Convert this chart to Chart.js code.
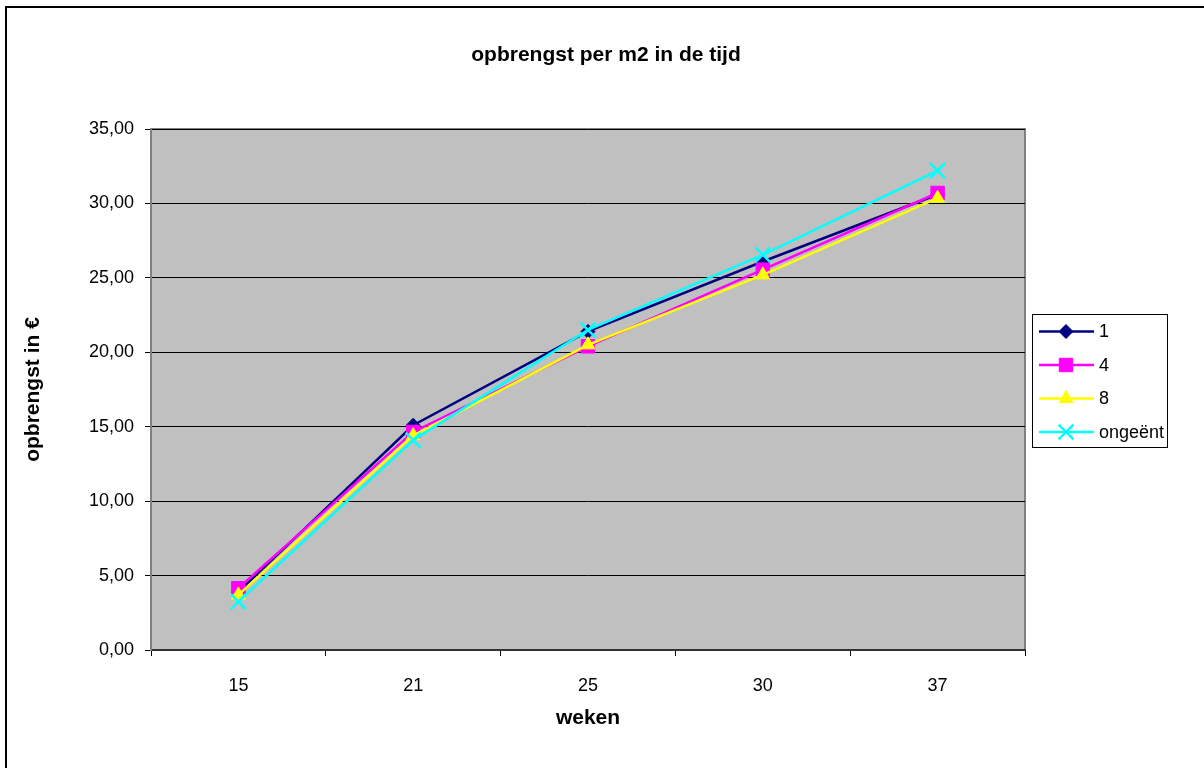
<!DOCTYPE html>
<html>
<head>
<meta charset="utf-8">
<script src="https://cdn.jsdelivr.net/npm/chart.js@4.4.0/dist/chart.umd.min.js"></script>
<style>
html,body{margin:0;padding:0;background:#fff;}
canvas{display:block;}
</style>
</head>
<body>
<canvas id="c" width="1204" height="768"></canvas>
<script>
const categories = ['15', '21', '25', '30', '37'];
const seriesNames = ['1', '4', '8', 'ongeënt'];
const values1 = [3.9, 15.1, 21.4, 26.1, 30.6];
const values4 = [4.15, 14.65, 20.4, 25.55, 30.7];
const values8 = [3.7, 14.4, 20.5, 25.2, 30.35];
const valuesOngeent = [3.25, 14.1, 21.5, 26.55, 32.2];
const yTicks = [0, 5, 10, 15, 20, 25, 30, 35];
const chartTitle = 'opbrengst per m2 in de tijd';
const xTitle = 'weken';
const yTitle = 'opbrengst in €';

const FONT = "'Liberation Sans', Arial, sans-serif";

function drawMarker(ctx, ds, x, y) {
  ctx.save();
  ctx.fillStyle = ds.pointBackgroundColor;
  ctx.strokeStyle = ds.pointBorderColor;
  ctx.lineWidth = ds.pointBorderWidth;
  Chart.helpers.drawPoint(ctx, {pointStyle: ds.pointStyle, radius: ds.pointRadius, rotation: 0, borderWidth: ds.pointBorderWidth}, x, y);
  ctx.restore();
}

const frame = {
  id: 'frame',
  beforeDraw(chart) {
    const {ctx, chartArea: a} = chart;
    ctx.save();
    ctx.fillStyle = '#fff';
    ctx.fillRect(0, 0, chart.width, chart.height);
    ctx.strokeStyle = '#000';
    ctx.lineWidth = 2;
    ctx.strokeRect(6, 7, 1400, 1000);
    ctx.fillStyle = '#C0C0C0';
    ctx.fillRect(a.left, a.top, a.right - a.left, a.bottom - a.top);
    ctx.strokeStyle = '#808080';
    ctx.lineWidth = 2;
    ctx.strokeRect(a.left, a.top, a.right - a.left, a.bottom - a.top);
    ctx.restore();
  },
  afterDraw(chart) {
    const {ctx, chartArea: a} = chart;
    ctx.save();
    ctx.fillStyle = '#000';
    ctx.textAlign = 'center';
    ctx.textBaseline = 'middle';
    ctx.font = "bold 21px " + FONT;
    ctx.fillText(chartTitle, 606, 55);
    ctx.fillText(xTitle, (a.left + a.right) / 2, 718);
    ctx.save();
    ctx.translate(33, (a.top + a.bottom) / 2);
    ctx.rotate(-Math.PI / 2);
    ctx.fillText(yTitle, 0, 0);
    ctx.restore();

    // legend
    const lx = 1032.5, ly = 314.5, lw = 135, lh = 133;
    ctx.fillStyle = '#fff';
    ctx.fillRect(lx, ly, lw, lh);
    ctx.strokeStyle = '#000';
    ctx.lineWidth = 1;
    ctx.strokeRect(lx, ly, lw, lh);
    ctx.font = "18px " + FONT;
    ctx.textAlign = 'left';
    chart.data.datasets.forEach((ds, i) => {
      const y = 331.5 + i * 33.5;
      ctx.strokeStyle = ds.borderColor;
      ctx.lineWidth = ds.borderWidth;
      ctx.beginPath();
      ctx.moveTo(1039, y);
      ctx.lineTo(1094, y);
      ctx.stroke();
      drawMarker(ctx, ds, 1066, y);
      ctx.fillStyle = '#000';
      ctx.fillText(ds.label, 1099, y + 1);
    });
    ctx.restore();
  }
};

function mk(label, data, color, style, radius, order, bw) {
  return {
    label, data,
    borderColor: color,
    backgroundColor: color,
    pointBackgroundColor: color,
    pointBorderColor: color,
    pointStyle: style,
    pointRadius: radius,
    pointHoverRadius: radius,
    pointBorderWidth: bw,
    borderWidth: 2.5,
    tension: 0,
    order
  };
}

new Chart(document.getElementById('c'), {
  type: 'line',
  data: {
    labels: categories,
    datasets: [
      mk(seriesNames[0], values1, '#000080', 'rectRot', 7, 4, 1),
      mk(seriesNames[1], values4, '#FF00FF', 'rect', 9.5, 3, 1),
      mk(seriesNames[2], values8, '#FFFF00', 'triangle', 8, 2, 1),
      mk(seriesNames[3], valuesOngeent, '#00FFFF', 'crossRot', 10.5, 1, 2.5)
    ]
  },
  options: {
    responsive: false,
    animation: false,
    devicePixelRatio: 1,
    layout: {padding: {top: 129, right: 179, left: 0, bottom: 0}},
    plugins: {
      legend: {display: false},
      title: {display: false},
      tooltip: {enabled: false}
    },
    scales: {
      x: {
        offset: true,
        grid: {offset: true, drawOnChartArea: false, color: '#000', tickLength: 6},
        border: {color: '#333', width: 2},
        ticks: {color: '#000', font: {family: FONT, size: 18}, padding: 19, maxRotation: 0},
        afterFit(s) { s.height = 118; }
      },
      y: {
        min: 0, max: 35,
        afterBuildTicks(s) { s.ticks = yTicks.map(v => ({value: v})); },
        grid: {color: '#000', tickLength: 6},
        border: {color: '#808080', width: 2},
        ticks: {
          color: '#000', font: {family: FONT, size: 18}, padding: 11,
          callback: v => Number(v).toFixed(2).replace('.', ',')
        },
        afterFit(s) { s.width = 151; }
      }
    }
  },
  plugins: [frame]
});
</script>
</body>
</html>
